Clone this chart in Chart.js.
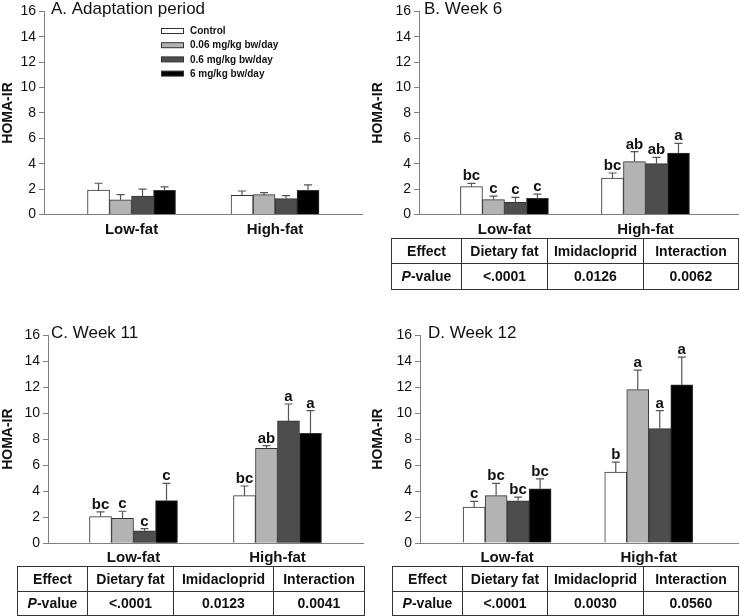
<!DOCTYPE html>
<html>
<head>
<meta charset="utf-8">
<script src="https://cdn.jsdelivr.net/npm/chart.js@4.4.1/dist/chart.umd.min.js"></script>
<style>
  html, body { margin: 0; padding: 0; background: #fff; }
  #fig { position: relative; width: 740px; height: 616px; overflow: hidden; }
  .panel { position: absolute; }
  table.pv { position: absolute; border-collapse: collapse; table-layout: fixed;
    font: bold 14px Arial, "Liberation Sans", sans-serif; color: #111; }
  table.pv td { border: 1.5px solid #333; text-align: center; padding: 0; white-space: nowrap; }
</style>
</head>
<body>
<div id="fig"></div>
<script>
/* ---------- data ---------- */
var categories = ['Low-fat', 'High-fat'];
var doses = ['Control', '0.06 mg/kg bw/day', '0.6 mg/kg bw/day', '6 mg/kg bw/day'];
var yTicks = [0, 2, 4, 6, 8, 10, 12, 14, 16];

// rows = dose, columns = [Low-fat, High-fat]
var meanA = [[1.92, 1.51], [1.15, 1.56], [1.46, 1.25], [1.90, 1.90]];
var errA  = [[0.54, 0.34], [0.41, 0.16], [0.54, 0.23], [0.28, 0.43]];

var meanB = [[2.19, 2.86], [1.17, 4.17], [0.96, 4.01], [1.27, 4.83]];
var errB  = [[0.26, 0.41], [0.28, 0.79], [0.39, 0.49], [0.33, 0.77]];
var letB  = [['bc', 'bc'], ['c', 'ab'], ['c', 'ab'], ['c', 'a']];

var meanC = [[2.05, 3.66], [1.92, 7.30], [0.95, 9.40], [3.28, 8.45]];
var errC  = [[0.36, 0.74], [0.54, 0.20], [0.18, 1.30], [1.33, 1.74]];
var letC  = [['bc', 'bc'], ['c', 'ab'], ['c', 'a'], ['c', 'a']];

var meanD = [[2.76, 5.45], [3.64, 11.80], [3.25, 8.80], [4.17, 12.16]];
var errD  = [[0.44, 0.77], [0.94, 1.50], [0.28, 1.38], [0.77, 2.14]];
var letD  = [['c', 'b'], ['bc', 'a'], ['bc', 'a'], ['bc', 'a']];

var tableHead = ['Effect', 'Dietary fat', 'Imidacloprid', 'Interaction'];
var pB = ['<.0001', '0.0126', '0.0062'];
var pC = ['<.0001', '0.0123', '0.0041'];
var pD = ['<.0001', '0.0030', '0.0560'];

/* ---------- style ---------- */
var FONT = 'Arial, "Liberation Sans", sans-serif';
var doseColors = ['#ffffff', '#b3b3b3', '#4d4d4d', '#000000'];
var axisColor = '#808080';

var panels = [
  {title: 'A. Adaptation period', mean: meanA, err: errA, letters: null, legend: true,
   left: 0, top: 0, w: 370, h: 245, area: {l: 44, t: 7.3, r: 362, b: 214.5},
   xmin: -0.61, xmax: 1.606, titleX: 51, titleY: 13.5},
  {title: 'B. Week 6', mean: meanB, err: errB, letters: letB,
   left: 370, top: 0, w: 370, h: 245, area: {l: 49, t: 7.3, r: 368, b: 214.5},
   xmin: -0.606, xmax: 1.656, titleX: 54, titleY: 14},
  {title: 'C. Week 11', mean: meanC, err: errC, letters: letC,
   left: 0, top: 320, w: 370, h: 250, area: {l: 48, t: 15, r: 363, b: 223.3},
   xmin: -0.594, xmax: 1.594, titleX: 51, titleY: 17.5},
  {title: 'D. Week 12', mean: meanD, err: errD, letters: letD,
   left: 370, top: 320, w: 370, h: 250, area: {l: 50, t: 15, r: 368, b: 223},
   xmin: -0.615, xmax: 1.63, titleX: 58, titleY: 18}
];

var tables = [
  {p: pB, left: 391, top: 237.5, cols: [70, 86, 96, 95], rowH: 24.5},
  {p: pC, left: 17, top: 566, cols: [70, 86, 100, 91], rowH: 23.5},
  {p: pD, left: 392, top: 566, cols: [70, 85, 96, 95], rowH: 23.5}
];

/* ---------- plugins ---------- */
var errBars = {
  id: 'errBars',
  afterDatasetsDraw: function(chart){
    var ctx = chart.ctx, y = chart.scales.y;
    chart.data.datasets.forEach(function(ds, i){
      chart.getDatasetMeta(i).data.forEach(function(bar, j){
        var top = y.getPixelForValue(ds.data[j].y + ds.err[j]);
        ctx.save();
        ctx.strokeStyle = '#555';
        ctx.lineWidth = 1.2;
        ctx.beginPath();
        ctx.moveTo(bar.x, bar.y);
        ctx.lineTo(bar.x, top);
        ctx.moveTo(bar.x - 4, top);
        ctx.lineTo(bar.x + 4, top);
        ctx.stroke();
        if(ds.letters){
          ctx.fillStyle = '#111';
          ctx.font = 'bold 15px ' + FONT;
          ctx.textAlign = 'center';
          ctx.textBaseline = 'alphabetic';
          ctx.fillText(ds.letters[j], bar.x, top - 3);
        }
        ctx.restore();
      });
    });
  }
};

var decor = {
  id: 'decor',
  afterDraw: function(chart, args, opts){
    var ctx = chart.ctx;
    ctx.save();
    ctx.fillStyle = '#111';
    ctx.font = '17px ' + FONT;
    ctx.textAlign = 'left';
    ctx.textBaseline = 'alphabetic';
    ctx.fillText(opts.title, opts.x, opts.y);
    if(opts.legend){
      chart.data.datasets.forEach(function(ds, i){
        var cy = 31 + i * 14.2;
        ctx.fillStyle = ds.backgroundColor;
        ctx.fillRect(161, cy - 2.5, 23, 5);
        ctx.strokeStyle = '#333';
        ctx.lineWidth = 1;
        ctx.strokeRect(161.5, cy - 2.5, 22, 5);
        ctx.fillStyle = '#111';
        ctx.font = 'bold 10px ' + FONT;
        ctx.textAlign = 'left';
        ctx.textBaseline = 'middle';
        ctx.fillText(ds.label, 190, cy + 0.5);
      });
    }
    ctx.restore();
  }
};

/* ---------- build ---------- */
var fig = document.getElementById('fig');

function buildPanel(p){
  var wrap = document.createElement('div');
  wrap.className = 'panel';
  wrap.style.left = p.left + 'px';
  wrap.style.top = p.top + 'px';
  var cv = document.createElement('canvas');
  cv.width = p.w; cv.height = p.h;
  cv.style.width = p.w + 'px'; cv.style.height = p.h + 'px';
  wrap.appendChild(cv);
  fig.appendChild(wrap);

  new Chart(cv, {
    type: 'bar',
    data: {
      datasets: doses.map(function(d, i){
        return {
          label: d,
          data: categories.map(function(c, j){ return {x: j, y: p.mean[i][j]}; }),
          err: p.err[i],
          letters: p.letters ? p.letters[i] : null,
          backgroundColor: doseColors[i],
          borderColor: '#333',
          borderWidth: 1,
          barThickness: 22
        };
      })
    },
    options: {
      responsive: false,
      animation: false,
      events: [],
      layout: {padding: {left: 0, top: p.area.t, right: p.w - p.area.r, bottom: 0}},
      plugins: {
        legend: {display: false},
        tooltip: {enabled: false},
        decor: {title: p.title, x: p.titleX, y: p.titleY, legend: !!p.legend}
      },
      scales: {
        x: {
          type: 'linear', min: p.xmin, max: p.xmax, offset: false,
          grid: {display: false, drawTicks: false, offset: false},
          border: {display: true, color: axisColor, width: 1},
          afterBuildTicks: function(s){ s.ticks = categories.map(function(c, j){ return {value: j}; }); },
          afterFit: function(s){ s.height = p.h - p.area.b; },
          ticks: {
            callback: function(v){ return categories[v]; },
            font: {family: FONT, size: 15, weight: 'bold'},
            color: '#111', padding: 6, maxRotation: 0, autoSkip: false
          }
        },
        y: {
          min: 0, max: 16,
          afterBuildTicks: function(s){ s.ticks = yTicks.map(function(v){ return {value: v}; }); },
          afterFit: function(s){ s.width = p.area.l; },
          grid: {drawOnChartArea: false, tickLength: 5, color: axisColor},
          border: {display: true, color: axisColor, width: 1},
          ticks: {font: {family: FONT, size: 14}, color: '#111', padding: 3},
          title: {display: true, text: 'HOMA-IR', font: {family: FONT, size: 14, weight: 'bold'},
                  color: '#111', padding: 0}
        }
      }
    },
    plugins: [errBars, decor]
  });
}

function buildTable(t){
  var tb = document.createElement('table');
  tb.className = 'pv';
  tb.style.left = t.left + 'px';
  tb.style.top = t.top + 'px';
  var total = t.cols.reduce(function(a, b){ return a + b; }, 0);
  tb.style.width = total + 'px';
  var cg = document.createElement('colgroup');
  t.cols.forEach(function(w){
    var c = document.createElement('col'); c.style.width = w + 'px'; cg.appendChild(c);
  });
  tb.appendChild(cg);
  var r1 = tb.insertRow();
  tableHead.forEach(function(h){
    var c = r1.insertCell(); c.textContent = h; c.style.height = t.rowH + 'px';
  });
  var r2 = tb.insertRow();
  var c0 = r2.insertCell();
  c0.innerHTML = '<i>P</i>-value';
  c0.style.height = t.rowH + 'px';
  t.p.forEach(function(v){
    var c = r2.insertCell(); c.textContent = v;
  });
  fig.appendChild(tb);
}

panels.forEach(buildPanel);
tables.forEach(buildTable);
</script>
</body>
</html>
